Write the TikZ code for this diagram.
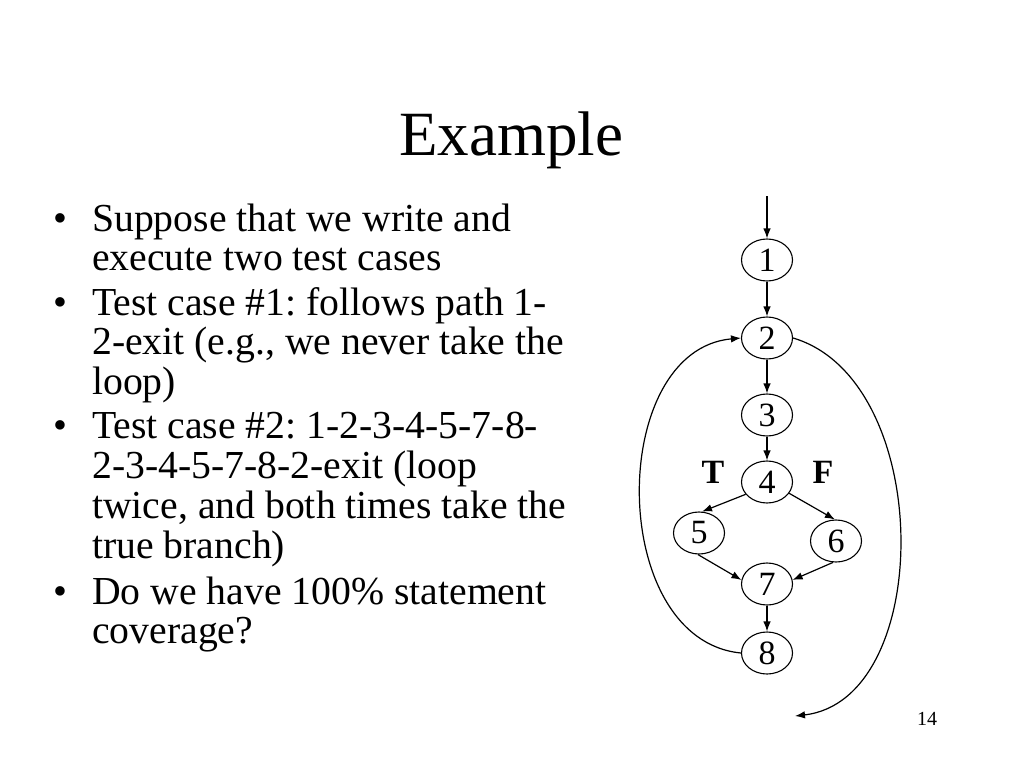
\documentclass[tikz,border=0pt]{standalone}
\usepackage{fontspec}
\setmainfont{Liberation Serif}
\usetikzlibrary{shapes.geometric,arrows.meta}
\frenchspacing
\begin{document}
\begin{tikzpicture}[x=1pt,y=-1pt,
  state/.style={ellipse,draw,line width=1.1pt,minimum width=51pt,minimum height=42pt,inner sep=0pt,font=\fontsize{34}{34}\selectfont},
  flow/.style={line width=1.2pt,-{Latex[length=10pt,width=7.5pt]}},
  bul/.style={anchor=base west,inner sep=0pt,font=\fontsize{39.7}{40}\selectfont},
  dot/.style={anchor=base,inner sep=0pt,font=\fontsize{39.7}{40}\selectfont},
  lbl/.style={anchor=base,inner sep=0pt,font=\fontsize{34}{34}\selectfont\bfseries}]
\useasboundingbox (0,0) rectangle (1024,768);
\fill[white] (0,0) rectangle (1024,768);
% title
\node[anchor=base,inner sep=0pt,font=\fontsize{63}{63}\selectfont] (title) at (511,155) {Example};
% bullets
\node[dot] (d1) at (60,231) {•};
\node[bul] (b1a) at (92,231) {Suppose that we write and};
\node[bul] (b1b) at (92,270) {execute two test cases};
\node[dot] (d2) at (60,315) {•};
\node[bul] (b2a) at (92,315) {Test case \#1: follows path 1-};
\node[bul] (b2b) at (92,354.5) {2-exit (e.g., we never take the};
\node[bul] (b2c) at (92,394) {loop)};
\node[dot] (d3) at (60,438) {•};
\node[bul] (b3a) at (92,438) {Test case \#2: 1-2-3-4-5-7-8-};
\node[bul] (b3b) at (92,478) {2-3-4-5-7-8-2-exit (loop};
\node[bul] (b3c) at (92,518) {twice, and both times take the};
\node[bul] (b3d) at (92,558) {true branch)};
\node[dot] (d4) at (60,604) {•};
\node[bul] (b4a) at (92,604) {Do we have 100\% statement};
\node[bul] (b4b) at (92,643) {coverage?};
% page number
\node[anchor=base,inner sep=0pt,font=\fontsize{20}{20}\selectfont] (pg) at (927,725) {14};
% graph
\node[state] (n1) at (767,260) {1};
\node[state] (n2) at (767,338) {2};
\node[state] (n3) at (767,415) {3};
\node[state] (n4) at (767,482) {4};
\node[state] (n5) at (699,533) {5};
\node[state] (n6) at (836,541) {6};
\node[state] (n7) at (767,584) {7};
\node[state] (n8) at (767,653) {8};
\node[lbl] (T) at (713,483) {T};
\node[lbl] (F) at (823,483) {F};
\coordinate (entry) at (767,196);
\coordinate (exit) at (795,716);
\draw[flow] (entry) -- (n1);
\draw[flow] (n1) -- (n2);
\draw[flow] (n2) -- (n3);
\draw[flow] (n3) -- (n4);
\draw[flow] (n4.210) -- (n5.82);
\draw[flow] (n4.333) -- (n6.93);
\draw[flow] (n5.267) -- (n7.171);
\draw[flow] (n6.262) -- (n7.9);
\draw[flow] (n7) -- (n8);
\draw[flow] (n8.west) .. controls (607,640) and (607,350) .. (n2.west);
\draw[flow] (n2.east) .. controls (935,380) and (935,700) .. (exit);
\end{tikzpicture}
\end{document}
